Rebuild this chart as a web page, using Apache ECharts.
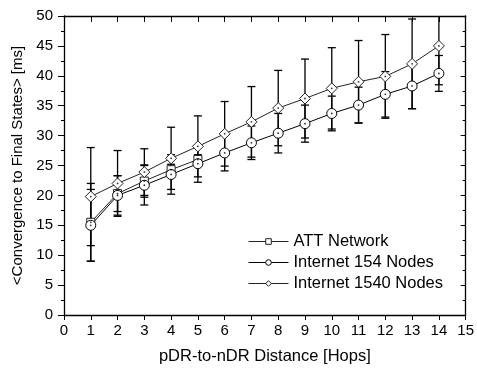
<!DOCTYPE html>
<html><head><meta charset="utf-8">
<script src="https://cdn.jsdelivr.net/npm/echarts@6/dist/echarts.min.js"></script>
<style>html,body{margin:0;padding:0;background:#fff}#c{width:477px;height:370px}</style>
</head><body><div id="c"></div>
<script>
var xAtt = [1, 2, 3, 4, 5];
var attMean = [15.5, 20.3, 22.4, 24.3, 26.0];
var attErr = [6.5, 3.0, 2.7, 0.9, 0.8];

var xNet = [1, 2, 3, 4, 5, 6, 7, 8, 9, 10, 11, 12, 13, 14];
var net154Mean = [15.0, 20.0, 21.7, 23.5, 25.3, 27.1, 28.8, 30.4, 32.0, 33.7, 35.1, 36.9, 38.3, 40.4];
var net154Err = [6.0, 3.3, 3.3, 3.3, 3.1, 3.0, 2.8, 3.3, 3.1, 2.9, 3.0, 3.8, 3.8, 3.0];
var net1540Mean = [19.8, 22.0, 23.9, 26.2, 28.2, 30.3, 32.3, 34.6, 36.2, 37.9, 39.0, 39.9, 42.0, 45.0];
var net1540Err = [8.2, 5.5, 3.9, 5.2, 5.1, 5.4, 5.9, 6.3, 6.6, 6.8, 6.9, 7.0, 7.5, 6.5];

var names = ['ATT Network', 'Internet 154 Nodes', 'Internet 1540 Nodes'];
var xTicks = [0,1,2,3,4,5,6,7,8,9,10,11,12,13,14,15];
var yTicks = [0,5,10,15,20,25,30,35,40,45,50];

var FONT = '"Liberation Sans", Arial, sans-serif';

function pts(xs, ys) { return xs.map(function (x, i) { return [x, ys[i]]; }); }
function errPts(xs, ys, es) { return xs.map(function (x, i) { return [x, ys[i] - es[i], ys[i] + es[i]]; }); }

function renderErr(params, api) {
  var cs = params.coordSys;
  var x = api.value(0);
  var lo = api.coord([x, api.value(1)]);
  var hi = api.coord([x, api.value(2)]);
  var top = cs.y, bot = cs.y + cs.height;
  var yLo = Math.min(lo[1], bot), yHi = Math.max(hi[1], top);
  var hw = 4;
  var children = [{ type: 'line', shape: { x1: lo[0], y1: yLo, x2: lo[0], y2: yHi }, style: { stroke: '#000', lineWidth: 1.3 } }];
  if (lo[1] <= bot) children.push({ type: 'line', shape: { x1: lo[0] - hw, y1: lo[1], x2: lo[0] + hw, y2: lo[1] }, style: { stroke: '#000', lineWidth: 1.3 } });
  if (hi[1] >= top) children.push({ type: 'line', shape: { x1: hi[0] - hw, y1: hi[1], x2: hi[0] + hw, y2: hi[1] }, style: { stroke: '#000', lineWidth: 1.3 } });
  return { type: 'group', children: children };
}

function lineSeries(name, data, symbol, size, color) {
  return {
    name: name, type: 'line', data: data, symbol: symbol, symbolSize: size,
    showAllSymbol: true, z: 5,
    lineStyle: { color: color, width: 1 },
    itemStyle: { color: '#fff', borderColor: color, borderWidth: 1 },
    emphasis: { disabled: true }, animation: false
  };
}
function errSeries(data) {
  return { type: 'custom', data: data, renderItem: renderErr, z: 2, silent: true, animation: false, encode: { x: 0, y: [1, 2] } };
}
function dotSeries(data) {
  return { type: 'scatter', data: data, symbol: 'circle', symbolSize: 1.8, z: 6, silent: true, animation: false,
    itemStyle: { color: '#000' } };
}

var chart = echarts.init(document.getElementById('c'), null, { renderer: 'canvas' });
chart.setOption({
  animation: false,
  grid: [{ left: 64, right: 10, top: 16, bottom: 54 }],
  xAxis: [
    { type: 'value', min: 0, max: 15, interval: 1, position: 'bottom',
      name: 'pDR-to-nDR Distance [Hops]', nameLocation: 'middle', nameGap: 33,
      nameTextStyle: { fontFamily: FONT, fontSize: 16.5, color: '#000' },
      axisLine: { show: true, onZero: false, lineStyle: { color: '#000', width: 1.3 } },
      axisTick: { show: true, inside: false, length: 5, lineStyle: { color: '#000' } },
      axisLabel: { fontFamily: FONT, fontSize: 15, color: '#000', margin: 8,
        formatter: function (v) { return xTicks.indexOf(v) >= 0 ? String(v) : ''; } },
      splitLine: { show: false } },
    { type: 'value', min: 0, max: 15, interval: 1, position: 'top',
      axisLine: { show: true, onZero: false, lineStyle: { color: '#000', width: 1.3 } },
      axisTick: { show: true, inside: true, length: 6, lineStyle: { color: '#000' } },
      axisLabel: { show: false }, splitLine: { show: false } }
  ],
  yAxis: [
    { type: 'value', min: 0, max: 50, interval: 5, position: 'left',
      name: '<Convergence to Final States> [ms]', nameLocation: 'middle', nameGap: 34,
      nameTextStyle: { fontFamily: FONT, fontSize: 15, color: '#000' },
      axisLine: { show: true, onZero: false, lineStyle: { color: '#000', width: 1.3 } },
      axisTick: { show: true, inside: false, length: 6, lineStyle: { color: '#000' } },
      minorTick: { show: true, splitNumber: 2, length: 3, lineStyle: { color: '#000' } },
      axisLabel: { fontFamily: FONT, fontSize: 15, color: '#000', margin: 11,
        formatter: function (v) { return yTicks.indexOf(v) >= 0 ? String(v) : ''; } },
      splitLine: { show: false } },
    { type: 'value', min: 0, max: 50, interval: 5, position: 'right',
      axisLine: { show: true, onZero: false, lineStyle: { color: '#000', width: 1.3 } },
      axisTick: { show: true, inside: true, length: 5, lineStyle: { color: '#000' } },
      minorTick: { show: true, splitNumber: 2, length: 3, lineStyle: { color: '#000' } },
      axisLabel: { show: false }, splitLine: { show: false } }
  ],
  legend: {
    data: names, orient: 'vertical', left: 243, top: 228, itemWidth: 40, itemHeight: 7, itemGap: 4,
    itemStyle: { borderWidth: 1 }, lineStyle: { width: 1 },
    textStyle: { fontFamily: FONT, fontSize: 16.5, color: '#000' }, selectedMode: false
  },
  series: [
    errSeries(errPts(xAtt, attMean, attErr)),
    errSeries(errPts(xNet, net154Mean, net154Err)),
    errSeries(errPts(xNet, net1540Mean, net1540Err)),
    lineSeries(names[0], pts(xAtt, attMean), 'rect', 8, '#222'),
    lineSeries(names[1], pts(xNet, net154Mean), 'circle', 10, '#000'),
    lineSeries(names[2], pts(xNet, net1540Mean), 'diamond', 11, '#222'),
    dotSeries(pts(xAtt, attMean)),
    dotSeries(pts(xNet, net154Mean)),
    dotSeries(pts(xNet, net1540Mean))
  ]
});
</script></body></html>
